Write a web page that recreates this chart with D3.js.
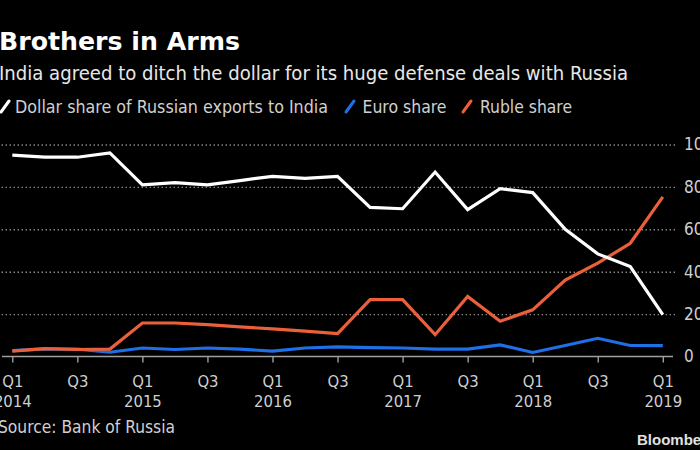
<!DOCTYPE html>
<html><head><meta charset="utf-8">
<script src="https://cdn.jsdelivr.net/npm/d3@7/dist/d3.min.js"></script>
<style>
body{margin:0;background:#000;}
svg{display:block;background:#000;}
text{font-family:"DejaVu Sans Condensed","DejaVu Sans",sans-serif;}
</style>
</head><body>
<svg id="chart" width="700" height="450"></svg>
<script>
const quarters = ["2014Q1","2014Q2","2014Q3","2014Q4","2015Q1","2015Q2","2015Q3","2015Q4",
  "2016Q1","2016Q2","2016Q3","2016Q4","2017Q1","2017Q2","2017Q3","2017Q4",
  "2018Q1","2018Q2","2018Q3","2018Q4","2019Q1"];
const dollarShare = [95,94,94,96,81,82,81,83,85,84,85,70.3,69.7,87,69.3,79.2,77.3,60,48.4,42.4,19.8];
const euroShare   = [2.8,3.6,3.5,2,4,3.3,4,3.5,2.5,4,4.5,4.2,4,3.5,3.5,5.5,1.9,5.2,8.6,5.2,5.1];
const rubleShare  = [2.5,3.7,3.3,3.5,15.8,15.8,15,14,13,12,10.8,26.8,26.8,10.3,28.3,16.6,22,36,44,53.4,75.3];
const xTickValues = ["2014Q1","2014Q3","2015Q1","2015Q3","2016Q1","2016Q3","2017Q1","2017Q3","2018Q1","2018Q3","2019Q1"];
const yTickValues = [0,20,40,60,80,100];
const seriesNames = ["Dollar share of Russian exports to India","Euro share","Ruble share"];
const seriesColors = ["#ffffff","#1f6fe6","#eb5f3a"];

const svg = d3.select("#chart");

const x = d3.scalePoint().domain(quarters).range([12.3, 662.8]);
const y = d3.scaleLinear().domain([0,100]).range([356.5, 144.5]);

// Title & subtitle
svg.append("text").attr("x",-1).attr("y",50).attr("fill","#fff")
  .attr("font-size",25).attr("font-weight","bold")
  .style("font-family","'DejaVu Sans',sans-serif")
  .attr("textLength",241).attr("lengthAdjust","spacingAndGlyphs")
  .text("Brothers in Arms");
svg.append("text").attr("x",-1).attr("y",80).attr("fill","#e8e8e8")
  .attr("font-size",19.5)
  .attr("textLength",629).attr("lengthAdjust","spacingAndGlyphs")
  .text("India agreed to ditch the dollar for its huge defense deals with Russia");

// Legend
const legendItems = [
  {name: seriesNames[0], color: seriesColors[0], icon: 1, tx: 15, tw: 313},
  {name: seriesNames[1], color: seriesColors[1], icon: 346, tx: 362.5, tw: 84},
  {name: seriesNames[2], color: seriesColors[2], icon: 463, tx: 480, tw: 92}
];
const lg = svg.append("g");
legendItems.forEach(d => {
  lg.append("line").attr("x1",d.icon).attr("y1",112).attr("x2",d.icon+8).attr("y2",101)
    .attr("stroke",d.color).attr("stroke-width",3).attr("stroke-linecap","round");
  lg.append("text").attr("x",d.tx).attr("y",112.5).attr("fill","#d0d0d0")
    .attr("font-size",18).attr("textLength",d.tw).attr("lengthAdjust","spacingAndGlyphs")
    .text(d.name);
});

// Gridlines + y labels
const yAxis = d3.axisRight(y).tickValues(yTickValues).tickSize(-675).tickPadding(9)
  .tickFormat(d3.format("d"));
const gy = svg.append("g").attr("transform","translate(675,0)").call(yAxis);
gy.select(".domain").remove();
gy.selectAll(".tick line").attr("stroke","#8a8a8a").attr("stroke-width",1.4)
  .attr("stroke-dasharray","1.4,2.6")
  .filter(d => d === 0).remove();
gy.selectAll(".tick text").attr("fill","#cfcfcf").attr("font-size",17)
  .style("font-family","'DejaVu Sans Condensed',sans-serif");

// X axis
const xAxis = d3.axisBottom(x).tickValues(xTickValues).tickSize(6).tickPadding(4).tickFormat("");
const gx = svg.append("g").attr("transform","translate(0,356.5)").call(xAxis);
gx.select(".domain").remove();
gx.selectAll(".tick line").attr("stroke","#a0a0a0").attr("stroke-width",1.4);
svg.append("line").attr("x1",2).attr("x2",673).attr("y1",y(0)).attr("y2",y(0))
  .attr("stroke","#a0a0a0").attr("stroke-width",1.6);
gx.selectAll(".tick").each(function(d){
  const t = d3.select(this);
  t.append("text").attr("y",30.8).attr("text-anchor","middle").attr("fill","#cfcfcf")
    .attr("font-size",16.5).text(d.slice(4));
  if (d.slice(4) === "Q1") {
    t.append("text").attr("y",50.2).attr("text-anchor","middle").attr("fill","#cfcfcf")
      .attr("font-size",16.5).text(d.slice(0,4));
  }
});

// Lines
const series = [dollarShare, euroShare, rubleShare];
const line = d3.line().x((d,i) => x(quarters[i])).y(d => y(d));
[1,2,0].forEach(k => {
  svg.append("path").datum(series[k]).attr("d",line).attr("fill","none")
    .attr("stroke",seriesColors[k]).attr("stroke-width",3.2)
    .attr("stroke-linejoin","miter").attr("stroke-linecap","butt");
});

// Footer
svg.append("text").attr("x",-2).attr("y",433).attr("fill","#d0d0d0")
  .attr("font-size",17).attr("textLength",177).attr("lengthAdjust","spacingAndGlyphs")
  .text("Source: Bank of Russia");
svg.append("text").attr("x",637).attr("y",445).attr("fill","#e0e0e0")
  .attr("font-size",15).attr("font-weight","bold")
  .style("font-family","'Liberation Sans',Arial,sans-serif")
  .text("Bloomberg");
</script>
</body></html>
